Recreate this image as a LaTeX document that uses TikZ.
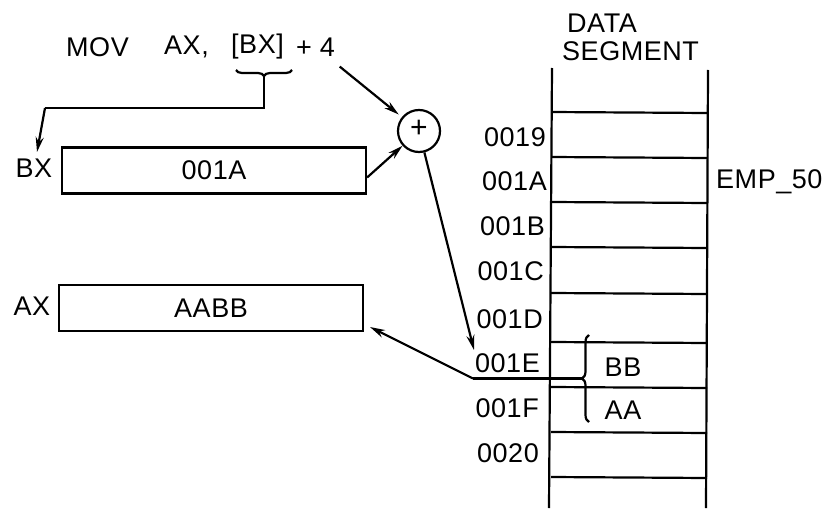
\documentclass[tikz,border=0pt]{standalone}
\usepackage{fontspec}
\setmainfont{Liberation Sans}[LetterSpace=2]
\usetikzlibrary{arrows.meta,decorations.pathreplacing,calc}
\begin{document}
\begin{tikzpicture}[x=1pt,y=-1pt,
  every node/.style={font=\fontsize{27}{30}\selectfont, inner sep=0pt},
  ln/.style={line width=2.2pt},
  arr/.style={line width=2.2pt,-{Stealth[length=15pt,width=8pt]}},
  regbox/.style={draw,line width=2.2pt,minimum width=304pt,minimum height=46pt},
  addr/.style={anchor=east},
  sumc/.style={draw,circle,line width=2.2pt,minimum size=42pt}
]
\useasboundingbox (0,0) rectangle (830,524);

% instruction
\node[anchor=west] (mov) at (66,47) {MOV};
\node[anchor=west] (axop) at (164,47) {AX,};
\node[anchor=west] (bxop) at (231,47) {[BX]};
\node[anchor=west] (plus4) at (296,47) {+ 4};
\draw[ln,decorate,decoration={brace,mirror,amplitude=6pt}] (236,70) -- (292,70);
\coordinate (bracetip) at (264,76);
\coordinate (bend1) at (264,108);
\coordinate (bend2) at (45,108);
\coordinate (bxtip) at (37,152);

% registers
\node (bx) at (214,170.5) [regbox] {001A};
\node (bxl) at (34,168) {BX};
\node (ax) at (211,308) [regbox] {AABB};
\node (axl) at (32,306) {AX};
\coordinate (axtip) at (370,327);

% adder
\node[sumc] (sum) at (419,131) {};
\node[font=\fontsize{30}{30}\selectfont] (plussign) at (419,129) {+};
\coordinate (memtip) at (474,350);

% data segment
\node[anchor=west] (data) at (567,23) {DATA};
\node[anchor=west] (seg) at (562,51) {SEGMENT};
\draw[ln] (552,68) -- (549,508);
\draw[ln] (708,70) -- (706,508);
\foreach \y in {112,157,202,247,293,342,387,432,477}
  \draw[ln] (551,\y) -- (707,\y+1);
\node[addr] (a19) at (546,137) {0019};
\node[addr] (a1a) at (547,181) {001A};
\node[addr] (a1b) at (545,226) {001B};
\node[addr] (a1c) at (544,271) {001C};
\node[addr] (a1d) at (543,319) {001D};
\node[addr] (a1e) at (540,363) {001E};
\node[addr] (a1f) at (539,408) {001F};
\node[addr] (a20) at (539,453) {0020};
\node[anchor=west] (emp) at (716,182) {EMP\_50};
\node (bb) at (623,367) {BB};
\node (aa) at (623,410) {AA};
\draw[ln,decorate,decoration={brace,amplitude=7pt}] (589,422) -- (589,335);
\coordinate (bbtip) at (582,378.5);
\coordinate (bend3) at (473,378.5);

% connectors
\draw[ln] (bracetip) -- (bend1) -- (bend2);
\draw[arr] (bend2) -- (bxtip);
\draw[arr,shorten <=16pt,shorten >=4pt] (plus4) -- (sum);
\draw[arr] ([yshift=-7pt]bx.east) -- (sum);
\draw[arr] (sum) -- (memtip);
\draw[ln] (bbtip) -- (bend3);
\draw[arr] (bend3) -- (axtip);
\end{tikzpicture}
\end{document}
